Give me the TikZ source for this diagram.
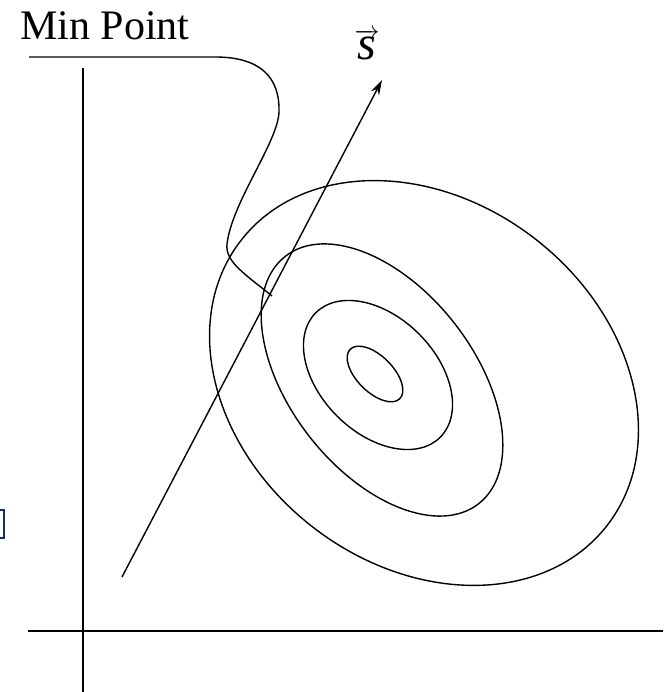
\documentclass[tikz,border=0pt]{standalone}
\usepackage{fontspec}
\setmainfont{Liberation Serif}
\usetikzlibrary{arrows.meta}
\definecolor{cursorblue}{RGB}{25,45,85}
\tikzset{
  axis/.style={line width=1.6pt},
  contour/.style={line width=1.4pt},
  leader/.style={line width=1.4pt},
  dirvec/.style={line width=1.4pt,-{Stealth[length=15pt,width=9pt]}}
}
\begin{document}
\begin{tikzpicture}[x=1pt,y=1pt]
\useasboundingbox (0,0) rectangle (663,692);
% Axes
\coordinate (ytop) at (83,624);
\coordinate (ybot) at (83,0);
\coordinate (xleft) at (28,61);
\coordinate (xright) at (663,61);
\draw[axis] (ytop) -- (ybot);
\draw[axis] (xleft) -- (xright);

% Contours
\draw[contour,rotate around={-45:(375,318)}] (375,318) ellipse [x radius=35,y radius=18];
\draw[contour,rotate around={-45:(378,317)}] (378,317) ellipse [x radius=88,y radius=58];
\draw[contour,rotate around={-52:(382,312)}] (382,312) ellipse [x radius=157,y radius=92];
\draw[contour,rotate around={-38:(424,309)}] (424,309) ellipse [x radius=232,y radius=182];

% Search direction
\coordinate (s0) at (122,115);
\coordinate (s1) at (382,612);
\draw[dirvec] (s0) -- (s1);
\node[anchor=base,inner sep=0,font=\fontsize{48}{54}\selectfont] (svec) at (367,632) {$\overrightarrow{\textit{s}}$};

% Min point label
\node[anchor=base west,inner sep=0,font=\fontsize{42}{48}\selectfont] (minpt) at (20,652) {Min Point};
\coordinate (ulstart) at (29,635);
\coordinate (ulend) at (215,635);
\coordinate (touch) at (272,396);
\draw[leader] (ulstart) -- (ulend) .. controls (260,635) and (280,615) .. (279,580)
  .. controls (278,550) and (232,490) .. (227,448)
  .. controls (225,430) and (245,418) .. (touch);

% cursor at left edge
\draw[cursorblue,line width=1.6pt] (0,182) -- (4,182) -- (4,154) -- (0,154);
\end{tikzpicture}
\end{document}
